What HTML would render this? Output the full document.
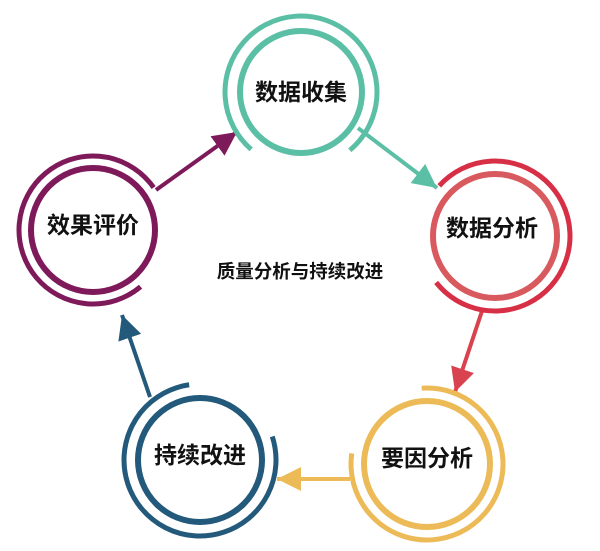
<!DOCTYPE html>
<html><head><meta charset="utf-8"><style>
html,body{margin:0;padding:0;background:#fff;}
svg{display:block;}
text{font-family:"Liberation Sans","Noto Sans CJK SC",sans-serif;font-weight:bold;fill:#111;}
</style></head><body>
<svg width="600" height="551" viewBox="0 0 600 551" xmlns="http://www.w3.org/2000/svg">
<defs>
<marker id="mp" markerUnits="userSpaceOnUse" markerWidth="26" markerHeight="24" refX="24" refY="12" orient="auto"><polygon points="0,0 24,12 0,24" fill="#7e1a5a"/></marker>
<marker id="mt" markerUnits="userSpaceOnUse" markerWidth="26" markerHeight="24" refX="24" refY="12" orient="auto"><polygon points="0,0 24,12 0,24" fill="#5bbfa6"/></marker>
<marker id="mr" markerUnits="userSpaceOnUse" markerWidth="26" markerHeight="24" refX="24" refY="12" orient="auto"><polygon points="0,0 24,12 0,24" fill="#d9434f"/></marker>
<marker id="my" markerUnits="userSpaceOnUse" markerWidth="26" markerHeight="24" refX="24" refY="12" orient="auto"><polygon points="0,0 24,12 0,24" fill="#ecbb57"/></marker>
<marker id="mb" markerUnits="userSpaceOnUse" markerWidth="26" markerHeight="24" refX="24" refY="12" orient="auto"><polygon points="0,0 24,12 0,24" fill="#23597a"/></marker>
</defs>
<line x1="156" y1="190" x2="237" y2="132" stroke="#7e1a5a" stroke-width="4" marker-end="url(#mp)"/>
<line x1="358" y1="128" x2="437" y2="188" stroke="#5bbfa6" stroke-width="4" marker-end="url(#mt)"/>
<line x1="482" y1="311" x2="455" y2="392" stroke="#d9434f" stroke-width="4" marker-end="url(#mr)"/>
<line x1="350" y1="479" x2="277" y2="479" stroke="#ecbb57" stroke-width="4" marker-end="url(#my)"/>
<line x1="150" y1="397" x2="122" y2="315" stroke="#23597a" stroke-width="4" marker-end="url(#mb)"/>

<circle cx="301" cy="92" r="61" fill="#fff" stroke="#5bbfa6" stroke-width="6"/>
<circle cx="301" cy="92" r="76" fill="none" stroke="#5bbfa6" stroke-width="5" stroke-dasharray="370 500" transform="rotate(131 301 92)"/>
<text x="301" y="100" font-size="23" text-anchor="middle">数据收集</text>

<circle cx="495" cy="236" r="62" fill="#fff" stroke="#d85a5e" stroke-width="6"/>
<circle cx="495" cy="236" r="75" fill="none" stroke="#d72f45" stroke-width="5" stroke-dasharray="366 500" transform="rotate(-138 495 236)"/>
<text x="492" y="236" font-size="23" text-anchor="middle">数据分析</text>

<circle cx="93" cy="230" r="62" fill="#fff" stroke="#7e1a5a" stroke-width="6"/>
<circle cx="93" cy="230" r="74" fill="none" stroke="#7e1a5a" stroke-width="5" stroke-dasharray="355 500" transform="rotate(50 93 230)"/>
<text x="93" y="233" font-size="23" text-anchor="middle">效果评价</text>

<circle cx="427" cy="464" r="63" fill="#fff" stroke="#ecbb57" stroke-width="6"/>
<circle cx="427" cy="464" r="76" fill="none" stroke="#ecbb57" stroke-width="5" stroke-dasharray="374 500" transform="rotate(-94 427 464)"/>
<text x="427" y="466" font-size="23" text-anchor="middle">要因分析</text>

<circle cx="200" cy="460" r="62" fill="#fff" stroke="#23597a" stroke-width="6"/>
<circle cx="200" cy="460" r="76" fill="none" stroke="#23597a" stroke-width="5" stroke-dasharray="371 500" transform="rotate(-18 200 460)"/>
<text x="200" y="463" font-size="23" text-anchor="middle">持续改进</text>

<text x="300" y="278" font-size="18.5" text-anchor="middle">质量分析与持续改进</text>
</svg>
</body></html>
